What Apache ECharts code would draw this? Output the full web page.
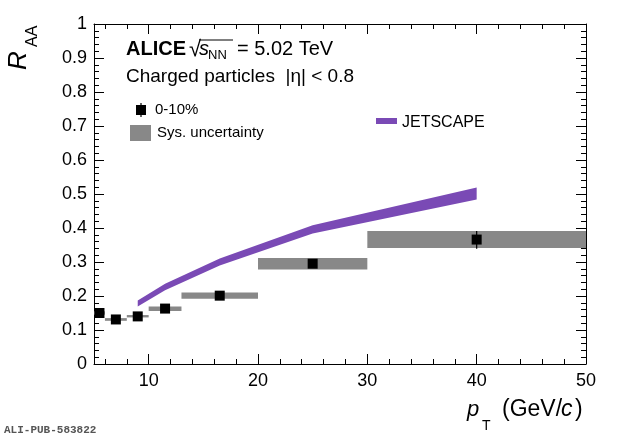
<!DOCTYPE html>
<html><head><meta charset="utf-8">
<script src="https://cdn.jsdelivr.net/npm/echarts@6/dist/echarts.min.js"></script>
<style>html,body{margin:0;padding:0;background:#fff}#c{width:620px;height:440px}</style>
</head><body><div id="c"></div>
<script>
// ---- data ----
const binLo = [5, 6, 8, 10, 13, 20, 30];
const binHi = [6, 8, 10, 13, 20, 30, 50];
const ptX   = [5.5, 7, 9, 11.5, 16.5, 25, 40];
const raa   = [0.150, 0.131, 0.140, 0.163, 0.201, 0.295, 0.366];
const sysLo = [0.145, 0.127, 0.137, 0.156, 0.192, 0.278, 0.341];
const sysHi = [0.155, 0.135, 0.144, 0.169, 0.210, 0.312, 0.391];
const statLo = [0.147, 0.129, 0.138, 0.160, 0.197, 0.288, 0.339];
const statHi = [0.153, 0.133, 0.142, 0.166, 0.205, 0.302, 0.391];
const jsX  = [9, 11.5, 16.5, 25, 40];
const jsLo = [0.169, 0.217, 0.290, 0.384, 0.484];
const jsHi = [0.187, 0.236, 0.310, 0.408, 0.519];
const xMajor = [10, 20, 30, 40, 50];
const xMinor = [6, 8, 12, 14, 16, 18, 22, 24, 26, 28, 32, 34, 36, 38, 42, 44, 46, 48];

const FONT = 'Liberation Sans';
const GRAY = '#888888';
const PURPLE = '#7a4ab5';

const chart = echarts.init(document.getElementById('c'), null, {renderer: 'canvas'});

function xAx(pos, ticks, len, showLine, labels) {
  return {
    type: 'value', position: pos, min: 5, max: 50, gridIndex: 0,
    axisLine: {show: showLine, onZero: false, lineStyle: {color: '#000', width: 1}},
    axisTick: {show: true, inside: true, length: len, customValues: ticks, lineStyle: {color: '#000', width: 1}},
    axisLabel: labels ? {show: true, customValues: xMajor, fontFamily: FONT, fontSize: 18, color: '#000', margin: 8} : {show: false},
    splitLine: {show: false}
  };
}
function yAx(pos, labels) {
  return {
    type: 'value', position: pos, min: 0, max: 1, interval: 0.1,
    axisLine: {show: true, onZero: false, lineStyle: {color: '#000', width: 1}},
    axisTick: {show: true, inside: true, length: 10, lineStyle: {color: '#000', width: 1}},
    minorTick: {show: true, splitNumber: 5, length: 5, lineStyle: {color: '#000', width: 1}},
    axisLabel: labels ? {show: true, fontFamily: FONT, fontSize: 18, color: '#000', margin: 7,
      formatter: v => (v === 0 || v === 1) ? String(v) : v.toFixed(1)} : {show: false},
    splitLine: {show: false}
  };
}

const sysData = binLo.map((lo, i) => [lo, binHi[i], sysLo[i], sysHi[i]]);
const statData = ptX.map((x, i) => [x, statLo[i], statHi[i]]);
const ptData = ptX.map((x, i) => [x, raa[i]]);

function txt(x, y, text, size, opts) {
  return Object.assign({
    type: 'text', x: x, y: y, silent: true,
    style: Object.assign({text: text, fontFamily: FONT, fontSize: size, fill: '#000', verticalAlign: 'middle', align: 'left'}, (opts && opts.style) || {})
  }, (opts && opts.el) || {});
}

const option = {
  animation: false,
  backgroundColor: '#fff',
  grid: {left: 94, right: 34, top: 24, bottom: 76, containLabel: false},
  xAxis: [
    xAx('bottom', xMajor, 10, true, true),
    xAx('bottom', xMinor, 5, false, false),
    xAx('top', xMajor, 10, true, false),
    xAx('top', xMinor, 5, false, false)
  ],
  yAxis: [yAx('left', true), yAx('right', false)],
  series: [
    {
      type: 'custom', name: 'Sys. uncertainty', xAxisIndex: 0, yAxisIndex: 0, z: 2,
      data: sysData,
      renderItem: function (params, api) {
        const p1 = api.coord([api.value(0), api.value(3)]);
        const p2 = api.coord([api.value(1), api.value(2)]);
        return {type: 'rect', shape: {x: p1[0], y: p1[1], width: p2[0] - p1[0], height: p2[1] - p1[1]},
          style: {fill: GRAY}};
      }
    },
    {
      type: 'custom', name: 'JETSCAPE', xAxisIndex: 0, yAxisIndex: 0, z: 3,
      data: [[0]],
      renderItem: function (params, api) {
        const pts = [];
        for (let i = 0; i < jsX.length; i++) pts.push(api.coord([jsX[i], jsHi[i]]));
        for (let i = jsX.length - 1; i >= 0; i--) pts.push(api.coord([jsX[i], jsLo[i]]));
        return {type: 'polygon', shape: {points: pts}, style: {fill: PURPLE}};
      }
    },
    {
      type: 'custom', name: 'stat', xAxisIndex: 0, yAxisIndex: 0, z: 4,
      data: statData,
      renderItem: function (params, api) {
        const a = api.coord([api.value(0), api.value(1)]);
        const b = api.coord([api.value(0), api.value(2)]);
        return {type: 'line', shape: {x1: a[0], y1: a[1], x2: b[0], y2: b[1]}, style: {stroke: '#000', lineWidth: 1.2}};
      }
    },
    {
      type: 'scatter', name: '0-10%', xAxisIndex: 0, yAxisIndex: 0, z: 5,
      symbol: 'rect', symbolSize: 10, itemStyle: {color: '#000', opacity: 1},
      emphasis: {disabled: true},
      data: ptData
    }
  ],
  graphic: [
    // header
    txt(126, 49, 'ALICE', 20, {style: {fontWeight: 'bold'}}),
    txt(189, 50, '\u221A', 22),
    {type: 'line', silent: true, shape: {x1: 199, y1: 40, x2: 233, y2: 40}, style: {stroke: '#000', lineWidth: 1}},
    txt(199, 49, 's', 20, {style: {fontStyle: 'italic'}}),
    txt(208, 55, 'NN', 13),
    txt(237, 49, '= 5.02 TeV', 20),
    txt(126, 77, 'Charged particles  |\u03B7| < 0.8', 19),
    // legend left
    {type: 'rect', silent: true, shape: {x: 136, y: 105, width: 10, height: 10}, style: {fill: '#000'}},
    {type: 'line', silent: true, shape: {x1: 141, y1: 103, x2: 141, y2: 117}, style: {stroke: '#000', lineWidth: 1.2}},
    txt(155, 110, '0-10%', 15),
    {type: 'rect', silent: true, shape: {x: 130, y: 125, width: 21, height: 16}, style: {fill: GRAY}},
    txt(157, 133, 'Sys. uncertainty', 15),
    // legend right
    {type: 'rect', silent: true, shape: {x: 376, y: 118, width: 21, height: 6}, style: {fill: PURPLE}},
    txt(402, 123, 'JETSCAPE', 16),
    // y title
    txt(19, 70, 'R', 26, {style: {fontStyle: 'italic'}, el: {rotation: Math.PI / 2}}),
    txt(33, 47, 'AA', 16, {el: {rotation: Math.PI / 2}}),
    // x title
    txt(467, 410, 'p', 22, {style: {fontStyle: 'italic'}}),
    txt(482, 426, 'T', 14),
    txt(502, 410, '(GeV/', 23),
    txt(561, 410, 'c', 23, {style: {fontStyle: 'italic'}}),
    txt(575, 410, ')', 23),
    // publication tag
    txt(4, 430, 'ALI-PUB-583822', 11, {style: {fontFamily: 'Liberation Mono', fontWeight: 'bold', fill: '#555'}})
  ]
};
chart.setOption(option);
</script>
</body></html>
